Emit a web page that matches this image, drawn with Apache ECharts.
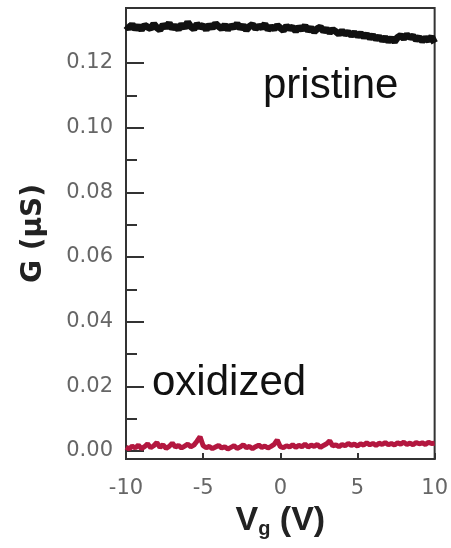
<!DOCTYPE html>
<html>
<head>
<meta charset="utf-8">
<script src="https://cdn.jsdelivr.net/npm/echarts@6/dist/echarts.min.js"></script>
<style>html,body{margin:0;padding:0;background:#fff;}#c{width:451px;height:548px;}</style>
</head>
<body>
<div id="c"></div>
<script>
// Gate voltage grid (V)
const vg = [];
for (let i = 0; i <= 100; i++) vg.push(+(-10 + i * 0.2).toFixed(1));

// Conductance G (µS)
const pristine = [
0.1316,0.1307,0.1319,0.1305,0.1314,0.1303,0.1317,0.1311,0.1306,0.1321,
0.1309,0.1302,0.1318,0.1310,0.1323,0.1307,0.1315,0.1304,0.1319,0.1309,
0.1326,0.1312,0.1305,0.1320,0.1311,0.1316,0.1303,0.1318,0.1308,0.1322,
0.1313,0.1306,0.1317,0.1304,0.1315,0.1310,0.1321,0.1307,0.1316,0.1302,
0.1313,0.1319,0.1306,0.1314,0.1309,0.1320,0.1303,0.1312,0.1305,0.1316,
0.1308,0.1301,0.1314,0.1306,0.1311,0.1299,0.1310,0.1304,0.1315,0.1300,
0.1308,0.1297,0.1306,0.1311,0.1298,0.1305,0.1294,0.1303,0.1297,0.1289,
0.1299,0.1290,0.1295,0.1286,0.1293,0.1284,0.1291,0.1281,0.1288,0.1277,
0.1285,0.1274,0.1281,0.1270,0.1278,0.1268,0.1276,0.1266,0.1279,0.1285,
0.1276,0.1287,0.1279,0.1283,0.1272,0.1279,0.1268,0.1277,0.1270,0.1281,
0.1262
];
const oxidized = [
0.0012,0.0006,0.0015,0.0009,0.0018,0.0007,0.0013,0.0022,0.0010,0.0016,
0.0026,0.0011,0.0019,0.0008,0.0014,0.0024,0.0012,0.0017,0.0009,0.0015,
0.0021,0.0013,0.0018,0.0030,0.0044,0.0016,0.0010,0.0014,0.0007,0.0012,
0.0017,0.0009,0.0013,0.0006,0.0011,0.0016,0.0008,0.0012,0.0019,0.0010,
0.0014,0.0007,0.0013,0.0018,0.0011,0.0015,0.0009,0.0014,0.0020,0.0034,
0.0013,0.0010,0.0016,0.0012,0.0019,0.0011,0.0017,0.0013,0.0021,0.0012,
0.0018,0.0014,0.0020,0.0011,0.0017,0.0022,0.0031,0.0015,0.0019,0.0013,
0.0020,0.0016,0.0023,0.0017,0.0021,0.0015,0.0022,0.0018,0.0025,0.0019,
0.0023,0.0017,0.0024,0.0020,0.0026,0.0019,0.0023,0.0018,0.0025,0.0021,
0.0027,0.0020,0.0024,0.0019,0.0026,0.0022,0.0025,0.0020,0.0027,0.0023,
0.0024
];
const yMajorTicks = [0, 0.02, 0.04, 0.06, 0.08, 0.10, 0.12];
const yMinorTicks = [0.01, 0.03, 0.05, 0.07, 0.09, 0.11];

const labelFont = { fontFamily: 'DejaVu Sans', fontSize: 21, color: '#666' };
const yMin = -0.0025, yMax = 0.137;

const chart = echarts.init(document.getElementById('c'), null, { renderer: 'canvas' });
chart.setOption({
  animation: false,
  backgroundColor: '#fff',
  grid: { left: 126, right: 14, top: 8, bottom: 89, show: true, borderColor: '#333', borderWidth: 2, backgroundColor: 'transparent' },
  xAxis: {
    type: 'value', min: -10, max: 10, interval: 5,
    axisLine: { show: true, onZero: false, lineStyle: { color: '#333', width: 2 } },
    axisTick: { show: true, inside: true, length: 6, lineStyle: { color: '#333', width: 2 } },
    splitLine: { show: false },
    axisLabel: Object.assign({ margin: 19, formatter: v => String(v) }, labelFont),
    name: '{a|V}{s|g}{a| (V)}',
    nameLocation: 'middle', nameGap: 42,
    nameTextStyle: {
      rich: {
        a: { fontFamily: 'Liberation Sans', fontWeight: 'bold', fontSize: 34, color: '#222' },
        s: { fontFamily: 'Liberation Sans', fontWeight: 'bold', fontSize: 20, color: '#222', verticalAlign: 'bottom', padding: [18, 0, 0, 0] }
      }
    }
  },
  yAxis: [{
    type: 'value', min: yMin, max: yMax,
    axisLine: { show: true, onZero: false, lineStyle: { color: '#333', width: 2 } },
    axisTick: { show: true, inside: true, length: 18, customValues: yMajorTicks, lineStyle: { color: '#333', width: 2 } },
    splitLine: { show: false },
    axisLabel: Object.assign({ margin: 13, customValues: yMajorTicks, formatter: v => v.toFixed(2) }, labelFont),
    name: 'G (µS)', nameLocation: 'middle', nameGap: 78, nameRotate: 90,
    nameTextStyle: { fontFamily: 'DejaVu Sans', fontWeight: 'bold', fontSize: 28, color: '#222' }
  }, {
    type: 'value', min: yMin, max: yMax, position: 'left',
    axisLine: { show: false, onZero: false },
    axisTick: { show: true, inside: true, length: 11, customValues: yMinorTicks, lineStyle: { color: '#333', width: 2 } },
    axisLabel: { show: false },
    splitLine: { show: false }
  }],
  graphic: [
    { type: 'text', left: 263, top: 65, style: { text: 'pristine', font: '42px "Liberation Sans"', fill: '#111' } },
    { type: 'text', left: 152, top: 362, style: { text: 'oxidized', font: '42px "Liberation Sans"', fill: '#111' } }
  ],
  series: [{
    type: 'line', showSymbol: false, yAxisIndex: 0,
    data: vg.map((v, i) => [v, pristine[i]]),
    lineStyle: { color: '#111', width: 7 }
  }, {
    type: 'line', showSymbol: false, yAxisIndex: 0,
    data: vg.map((v, i) => [v, oxidized[i]]),
    lineStyle: { color: '#b3173f', width: 5 }
  }]
});
</script>
</body>
</html>
